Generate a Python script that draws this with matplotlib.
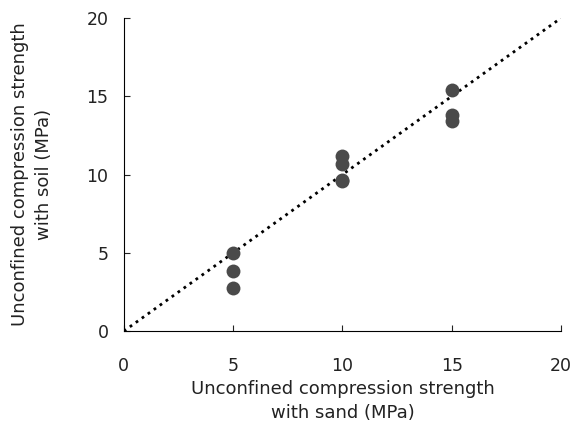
import numpy as np
import matplotlib
matplotlib.use('Agg')
import matplotlib.pyplot as plt

plt.rcParams['font.family'] = ['DejaVu Sans']

# measured points (MPa)
sand = [5, 5, 5, 10, 10, 10, 10, 15, 15, 15]
soil = [5.0, 3.85, 2.75, 11.2, 10.7, 9.6, 9.65, 15.4, 13.8, 13.4]
line_x = [0, 20]
line_y = [0, 20]

fig = plt.figure(figsize=(5.76, 4.30), dpi=100)
ax = fig.add_axes([0.215, 0.230, 0.759, 0.728])
ax.plot(line_x, line_y, color='black', linestyle=':', linewidth=2.0)
ax.plot(sand, soil, 'o', color='#4a4a4a', markersize=10, markeredgewidth=0)

ax.set_xlim(0, 20)
ax.set_ylim(0, 20)
ax.set_xticks([0, 5, 10, 15, 20])
ax.set_yticks([0, 5, 10, 15, 20])
ax.tick_params(direction='in', length=4, labelsize=12.5, colors='#222222')
ax.tick_params(axis='x', pad=19)
ax.tick_params(axis='y', pad=11)
for s in ['top', 'right']:
    ax.spines[s].set_visible(False)
ax.set_xlabel('Unconfined compression strength\nwith sand (MPa)', fontsize=13, color='#222222',
              linespacing=1.45, labelpad=3)
ax.set_ylabel('Unconfined compression strength\nwith soil (MPa)', fontsize=13, color='#222222',
              linespacing=1.45, labelpad=24)

plt.savefig('out.png', dpi=100)
